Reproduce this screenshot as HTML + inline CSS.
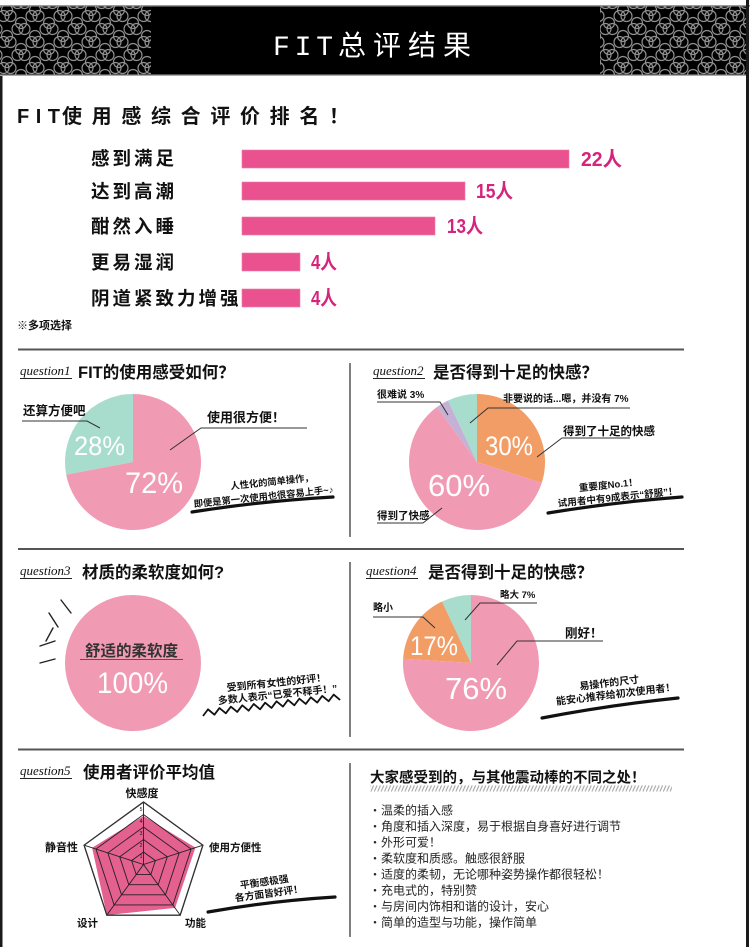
<!DOCTYPE html>
<html><head><meta charset="utf-8">
<style>
html,body{margin:0;padding:0;background:#fff;}
svg{display:block;}
text{font-family:"Liberation Sans","Noto Sans CJK SC",sans-serif;fill:#111;}
.b{font-weight:bold;}
.mono{font-family:"Liberation Mono","Noto Sans CJK SC",monospace;}
.serif{font-family:"Liberation Serif",serif;font-style:italic;}
.w{fill:#fff;}
.pk{fill:#d6237b;font-weight:bold;}
.ln{stroke:#333;stroke-width:1;fill:none;}
.bl{fill:#222;}
</style></head><body>
<svg width="750" height="947" viewBox="0 0 750 947" xmlns="http://www.w3.org/2000/svg">
<defs>
<pattern id="pt" x="0" y="7" width="28" height="26" patternUnits="userSpaceOnUse">
<g fill="none" stroke="#8f8f8f" stroke-width="1.2">
<circle cx="7" cy="3" r="5.5"/><circle cx="10.5" cy="9" r="5.5"/><circle cx="3.5" cy="9" r="5.5"/>
<circle cx="7" cy="29" r="5.5"/><circle cx="31.5" cy="9" r="5.5"/>
<circle cx="21" cy="16" r="5.5"/><circle cx="24.5" cy="22" r="5.5"/><circle cx="17.5" cy="22" r="5.5"/>
<circle cx="-3.5" cy="22" r="5.5"/><circle cx="24.5" cy="-4" r="5.5"/><circle cx="17.5" cy="-4" r="5.5"/><circle cx="-3.5" cy="-4" r="5.5"/>
</g></pattern>
<pattern id="hatch" x="0" y="785" width="3.4" height="7" patternUnits="userSpaceOnUse"><path d="M0.3,6.5 L3,0.5" stroke="#a0a0a0" stroke-width="1"/></pattern>
</defs>
<rect width="750" height="947" fill="#fff"/>

<!-- header -->
<rect x="0" y="5" width="750" height="1.5" fill="#999"/>
<rect x="0" y="6.5" width="746" height="68" fill="#000"/>
<rect x="0" y="6.5" width="151" height="68" fill="url(#pt)"/>
<rect x="600" y="6.5" width="146" height="68" fill="url(#pt)"/>
<rect x="0" y="74.5" width="746" height="1.5" fill="#aaa"/>
<rect x="0" y="76" width="2.5" height="871" fill="#1a1a1a"/>
<rect x="746" y="0" width="3" height="947" fill="#1a1a1a"/>
<text x="273" y="55" class="mono w" font-size="28" textLength="60" lengthAdjust="spacing">FIT</text>
<text x="338" y="55" class="w" font-size="28" textLength="133" lengthAdjust="spacing">总评结果</text>

<!-- ranking -->
<text x="17" y="123" class="b" font-size="20" textLength="43" lengthAdjust="spacing">FIT</text>
<text x="62" y="123" class="b" font-size="20" textLength="287" lengthAdjust="spacing">使用感综合评价排名！</text>

<g class="b" font-size="18.5" letter-spacing="3">
<text x="91" y="165">感到满足</text>
<text x="91" y="198">达到高潮</text>
<text x="91" y="233">酣然入睡</text>
<text x="91" y="269">更易湿润</text>
<text x="91" y="305">阴道紧致力增强</text>
</g>
<g fill="#e9528f" stroke="#f07aa8" stroke-width="0.6">
<rect x="242" y="150" width="327" height="18"/>
<rect x="242" y="182" width="223" height="18"/>
<rect x="242" y="217" width="193" height="18"/>
<rect x="242" y="253" width="58" height="18"/>
<rect x="242" y="289" width="58" height="18"/>
</g>
<g font-size="20">
<text x="581" y="166" class="pk" textLength="41" lengthAdjust="spacingAndGlyphs">22人</text>
<text x="476" y="198" class="pk" textLength="37" lengthAdjust="spacingAndGlyphs">15人</text>
<text x="447" y="233" class="pk" textLength="36" lengthAdjust="spacingAndGlyphs">13人</text>
<text x="311" y="269" class="pk" textLength="26" lengthAdjust="spacingAndGlyphs">4人</text>
<text x="311" y="305" class="pk" textLength="26" lengthAdjust="spacingAndGlyphs">4人</text>
</g>
<text x="17" y="329" class="b" font-size="11">※多项选择</text>

<!-- separators -->
<g stroke="#555" stroke-width="2">
<line x1="18" y1="349.5" x2="684" y2="349.5"/>
<line x1="18" y1="549" x2="684" y2="549"/>
<line x1="18" y1="749.5" x2="684" y2="749.5"/>
</g>
<g stroke="#555" stroke-width="1.5">
<line x1="350" y1="363" x2="350" y2="537"/>
<line x1="350" y1="562" x2="350" y2="737"/>
<line x1="350" y1="763" x2="350" y2="937"/>
</g>

<!-- question headers -->
<g stroke="#222" stroke-width="1">
<line x1="20" y1="378.5" x2="72" y2="378.5"/>
<line x1="373" y1="378.5" x2="425" y2="378.5"/>
<line x1="20" y1="578.5" x2="72" y2="578.5"/>
<line x1="366" y1="578.5" x2="418" y2="578.5"/>
<line x1="20" y1="778.5" x2="72" y2="778.5"/>
</g>
<g font-size="13">
<text x="20" y="375" class="serif">question1</text>
<text x="373" y="375" class="serif">question2</text>
<text x="20" y="575" class="serif">question3</text>
<text x="366" y="575" class="serif">question4</text>
<text x="20" y="775" class="serif">question5</text>
</g>
<g class="b" font-size="16.5">
<text x="78" y="378">FIT的使用感受如何？</text>
<text x="433" y="378">是否得到十足的快感？</text>
<text x="82" y="578">材质的柔软度如何?</text>
<text x="428" y="578">是否得到十足的快感？</text>
<text x="83" y="778">使用者评价平均值</text>
</g>

<!-- Q1 pie -->
<path d="M133,462 L133,394 A68,68 0 0 0 66.2,474.7 Z" fill="#a8dccd"/>
<path d="M133,462 L133,394 A68,68 0 1 1 66.2,474.7 Z" fill="#f09ab3"/>
<text x="74" y="455" class="w" font-size="27" textLength="51" lengthAdjust="spacingAndGlyphs">28%</text>
<text x="125" y="493" class="w" font-size="30" textLength="58" lengthAdjust="spacingAndGlyphs">72%</text>
<text x="23" y="415" class="b" font-size="12.5">还算方便吧</text>
<polyline class="ln" points="22,421 87,421 100,428"/>
<text x="207" y="422" class="b" font-size="13">使用很方便！</text>
<polyline class="ln" points="307,428 201,428 170,450"/>
<g transform="rotate(-6 263 492)" class="b" font-size="9.3">
<text x="273" y="486" text-anchor="middle">人性化的简单操作，</text>
<text x="263" y="500" text-anchor="middle">即便是第一次使用也很容易上手~♪</text>
</g>
<path d="M192,512 Q262,501 333,497" stroke="#111" stroke-width="3.2" fill="none" stroke-linecap="round"/>

<!-- Q2 pie -->
<path d="M477,462 L477,394 A68,68 0 0 1 541.7,483 Z" fill="#f39d66"/>
<path d="M477,462 L541.7,483 A68,68 0 1 1 437,407 Z" fill="#f09ab3"/>
<path d="M477,462 L437,407 A68,68 0 0 1 448,400.5 Z" fill="#c6b1d6"/>
<path d="M477,462 L448,400.5 A68,68 0 0 1 477,394 Z" fill="#a8dccd"/>
<text x="485" y="455" class="w" font-size="27" textLength="48" lengthAdjust="spacingAndGlyphs">30%</text>
<text x="428" y="496" class="w" font-size="31" textLength="62" lengthAdjust="spacingAndGlyphs">60%</text>
<text x="377" y="398" class="b" font-size="10">很难说 3%</text>
<polyline class="ln" points="377,402 440,402 448,415"/>
<text x="503" y="402" class="b" font-size="10">非要说的话...嗯，并没有 7%</text>
<polyline class="ln" points="630,408 488,408 470,423"/>
<text x="563" y="435" class="b" font-size="11.5">得到了十足的快感</text>
<polyline class="ln" points="630,438 562,438 537,457"/>
<text x="377" y="519" class="b" font-size="10.5">得到了快感</text>
<polyline class="ln" points="377,523 423,523 442,508"/>
<g transform="rotate(-6 612 491)" class="b" font-size="9.6">
<text x="609" y="488" text-anchor="middle">重要度No.1！</text>
<text x="617" y="501" text-anchor="middle">试用者中有9成表示“舒服”！</text>
</g>
<path d="M548,513 Q615,502 682,497" stroke="#111" stroke-width="3.2" fill="none" stroke-linecap="round"/>

<!-- Q3 -->
<circle cx="133" cy="663" r="68" fill="#f09ab3"/>
<g stroke="#222" stroke-width="1.4" stroke-linecap="round">
<line x1="61" y1="600" x2="71" y2="613"/>
<line x1="49" y1="613" x2="58" y2="627"/>
<line x1="46" y1="641" x2="53" y2="628"/>
<line x1="40" y1="646" x2="55" y2="641"/>
<line x1="40" y1="663" x2="55" y2="659"/>
</g>
<text x="85" y="656" class="b" font-size="15.5" style="fill:#333">舒适的柔软度</text>
<line x1="80" y1="659.5" x2="183" y2="659.5" stroke="#555" stroke-width="1"/>
<text x="97" y="693" class="w" font-size="30" textLength="71" lengthAdjust="spacingAndGlyphs">100%</text>
<g transform="rotate(-6 277 689)" class="b" font-size="10">
<text x="277" y="686" text-anchor="middle">受到所有女性的好评！</text>
<text x="277" y="698" text-anchor="middle">多数人表示“已爱不释手！”</text>
</g>
<g transform="translate(203,716) rotate(-6.7)">
<polyline fill="none" stroke="#111" stroke-width="1.8" stroke-linejoin="round" points="0,0 5.75,-6 11.5,0 17.25,-6 23,0 28.75,-6 34.5,0 40.25,-6 46,0 51.75,-6 57.5,0 63.25,-6 69,0 74.75,-6 80.5,0 86.25,-6 92,0 97.75,-6 103.5,0 109.25,-6 115,0 120.75,-6 126.5,0 132.25,-6 138,0"/>
</g>

<!-- Q4 pie -->
<path d="M471,663 L471,595 A68,68 0 1 1 403.1,658.7 Z" fill="#f09ab3"/>
<path d="M471,663 L403.1,658.7 A68,68 0 0 1 442,601.5 Z" fill="#f39d66"/>
<path d="M471,663 L442,601.5 A68,68 0 0 1 471,595 Z" fill="#a8dccd"/>
<text x="410" y="655" class="w" font-size="27" textLength="48" lengthAdjust="spacingAndGlyphs">17%</text>
<text x="445" y="699" class="w" font-size="31" textLength="62" lengthAdjust="spacingAndGlyphs">76%</text>
<text x="373" y="611" class="b" font-size="10">略小</text>
<polyline class="ln" points="373,617 423,617 435,628"/>
<text x="500" y="598" class="b" font-size="9.5">略大 7%</text>
<polyline class="ln" points="537,603 480,603 465,620"/>
<text x="565" y="637.5" class="b" font-size="12.5">刚好！</text>
<polyline class="ln" points="603,641 517,641 497,665"/>
<g transform="rotate(-7 612 689)" class="b" font-size="10">
<text x="610" y="686" text-anchor="middle">易操作的尺寸</text>
<text x="615" y="698" text-anchor="middle">能安心推荐给初次使用者！</text>
</g>
<path d="M542,718 Q610,705 678,698" stroke="#111" stroke-width="3.2" fill="none" stroke-linecap="round"/>

<!-- Q5 radar -->
<polygon points="143.5,802 202.9,845.2 180.2,915.1 106.8,915.1 84.1,845.2" fill="#fff" stroke="#333" stroke-width="1.2"/>
<polygon points="143.5,816 195.4,847.6 175.1,907.9 106.8,915.1 92.1,847.8" fill="#e4608e"/>
<g fill="none" stroke="#222" stroke-width="0.9">
<polygon points="143.5,814.5 191.1,849.05 172.9,904.95 114.1,904.95 95.95,849.05"/>
<polygon points="143.5,827 179.2,852.9 165.5,894.8 121.5,894.8 107.8,852.9"/>
<polygon points="143.5,839.5 167.3,856.8 158.2,884.7 128.8,884.7 119.7,856.8"/>
<polygon points="143.5,852 155.4,860.6 150.8,874.6 136.2,874.6 131.6,860.6"/>
<line x1="143.5" y1="864.5" x2="143.5" y2="802"/>
<line x1="143.5" y1="864.5" x2="202.9" y2="845.2"/>
<line x1="143.5" y1="864.5" x2="180.2" y2="915.1"/>
<line x1="143.5" y1="864.5" x2="106.8" y2="915.1"/>
<line x1="143.5" y1="864.5" x2="84.1" y2="845.2"/>
<polygon points="143.5,802 202.9,845.2 180.2,915.1 106.8,915.1 84.1,845.2" stroke="#333" stroke-width="1.2"/>
</g>
<g font-size="5" text-anchor="middle">
<text x="141" y="858">1</text><text x="141" y="847">2</text><text x="141" y="835">3</text><text x="141" y="823">4</text><text x="141" y="811">5</text>
</g>
<text x="142" y="797" class="b" font-size="11" text-anchor="middle">快感度</text>
<text x="78" y="851" class="b" font-size="11" text-anchor="end">静音性</text>
<text x="209" y="851" class="b" font-size="10.5">使用方便性</text>
<text x="77" y="926.5" class="b" font-size="10.5">设计</text>
<text x="185" y="926.5" class="b" font-size="10.5">功能</text>
<g transform="rotate(-8 267 887)" class="b" font-size="9.8">
<text x="265" y="885" text-anchor="middle">平衡感极强</text>
<text x="268" y="897" text-anchor="middle">各方面皆好评！</text>
</g>
<path d="M208,912 Q270,901 335,897" stroke="#111" stroke-width="3.2" fill="none" stroke-linecap="round"/>

<!-- right bottom -->
<text x="370" y="782.5" class="b" font-size="14.5">大家感受到的，与其他震动棒的不同之处！</text>
<rect x="370" y="785" width="302" height="7" fill="url(#hatch)"/>
<g font-size="12">
<text x="369" y="814.5" class="bl">・温柔的插入感</text>
<text x="369" y="830.5" class="bl">・角度和插入深度，易于根据自身喜好进行调节</text>
<text x="369" y="846.5" class="bl">・外形可爱！</text>
<text x="369" y="862.5" class="bl">・柔软度和质感。触感很舒服</text>
<text x="369" y="878.5" class="bl">・适度的柔韧，无论哪种姿势操作都很轻松！</text>
<text x="369" y="894.5" class="bl">・充电式的，特别赞</text>
<text x="369" y="910.5" class="bl">・与房间内饰相和谐的设计，安心</text>
<text x="369" y="926.5" class="bl">・简单的造型与功能，操作简单</text>
</g>
</svg>
</body></html>
